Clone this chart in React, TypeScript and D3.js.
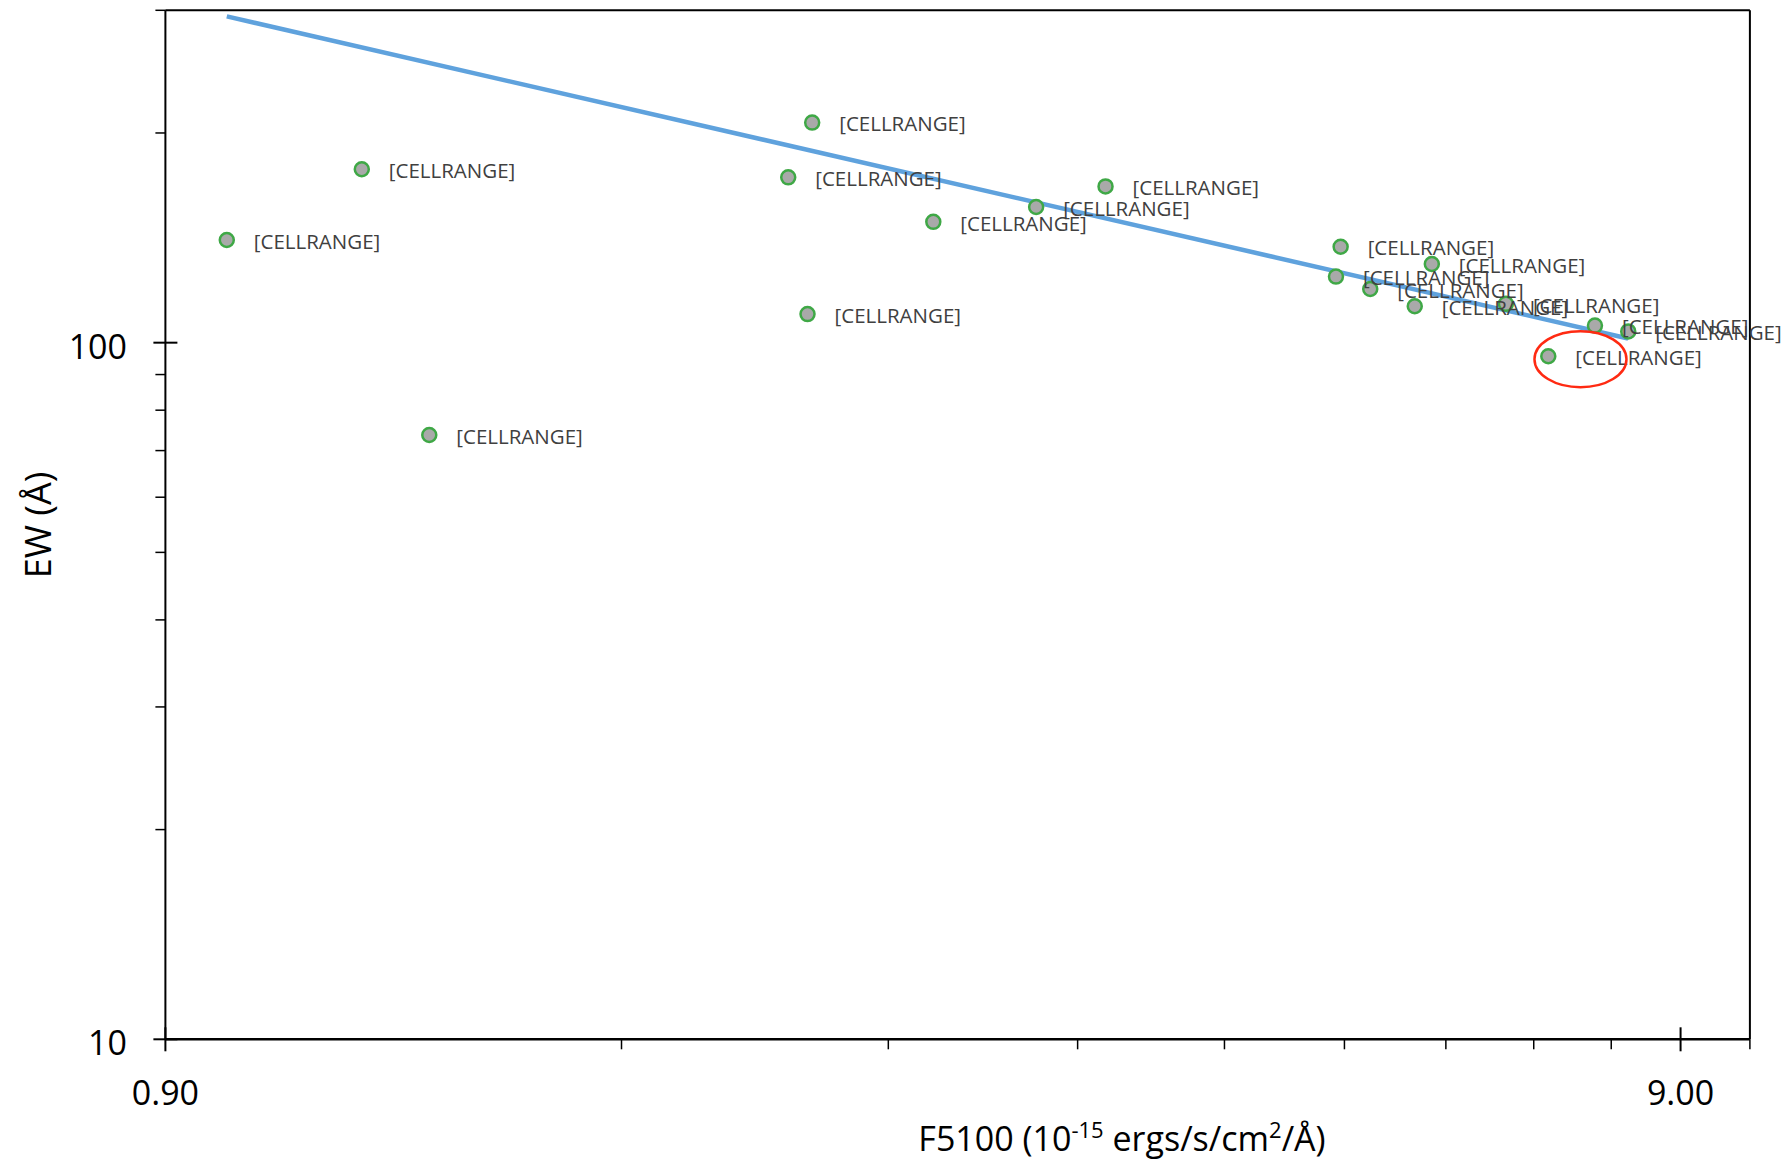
import React from "react";
import { scaleLog, line, format } from "d3";

// F5100 (1e-15 ergs/s/cm2/A) and EW (A)
const fluxValues = [0.988, 1.213, 1.344, 2.405, 2.319, 2.388, 2.891, 3.38, 3.756, 5.369, 5.331, 6.167, 5.616, 6.009, 6.902, 7.902, 8.312, 7.361];
const ewValues = [140.4, 177.4, 73.7, 207, 172.7, 109.9, 149.1, 156.6, 167.6, 137.3, 124.4, 129.7, 119.4, 112.8, 113.7, 105.8, 103.8, 95.6];
const pointLabels = fluxValues.map(() => "[CELLRANGE]");

// trend line (power law, straight in log-log)
const trendFlux = [0.988, 8.31];
const trendEw = [294, 101.4];

// circled point
const highlightFlux = [7.73];
const highlightEw = [94.7];

const xMajor = [0.9, 9];
const xMinor = [1.8, 2.7, 3.6, 4.5, 5.4, 6.3, 7.2, 8.1, 10];
const yMajor = [10, 100];
const yMinor = [20, 30, 40, 50, 60, 70, 80, 90, 200, 300];

const W = 1789;
const H = 1162;
const FONT = "'Open Sans', 'Noto Sans', sans-serif";

export default function App() {
  const left = 165.4, right = 1749.9, top = 10.3, bottom = 1039.3;

  const x = scaleLog().domain([0.9, 10]).range([left, right]);
  const y = scaleLog().domain([10, 300]).range([bottom, top]);

  const trend = line<number>()
    .x((d) => x(d))
    .y((d, i) => y(trendEw[i]));

  const fmtX = format(".2f");

  return (
    <svg
      width={W}
      height={H}
      style={{ position: "absolute", left: 0, top: 0, background: "#fff" }}
      fontFamily={FONT}
    >
      {/* frame */}
      <line x1={left} x2={right} y1={top} y2={top} stroke="#000" strokeWidth={2} />
      <line x1={right} x2={right} y1={top} y2={bottom} stroke="#000" strokeWidth={2} />
      <line x1={left} x2={left} y1={top} y2={bottom} stroke="#000" strokeWidth={2} />
      <line x1={left} x2={right} y1={bottom} y2={bottom} stroke="#000" strokeWidth={2.5} />

      {/* x ticks */}
      {xMinor.map((v) => (
        <line key={"xm" + v} x1={x(v)} x2={x(v)} y1={bottom} y2={bottom + 10} stroke="#000" strokeWidth={1.5} />
      ))}
      {xMajor.map((v) => (
        <g key={"xM" + v}>
          <line x1={x(v)} x2={x(v)} y1={bottom - 12} y2={bottom + 12} stroke="#000" strokeWidth={2} />
          <text x={x(v)} y={1105} textAnchor="middle" fontSize={34} fill="#000">
            {fmtX(v)}
          </text>
        </g>
      ))}

      {/* y ticks */}
      {yMinor.map((v) => (
        <line key={"ym" + v} x1={left - 10} x2={left} y1={y(v)} y2={y(v)} stroke="#000" strokeWidth={1.5} />
      ))}
      {yMajor.map((v) => (
        <g key={"yM" + v}>
          <line x1={left - 12} x2={left + 12} y1={y(v)} y2={y(v)} stroke="#000" strokeWidth={2} />
          <text x={127} y={y(v) + 4} dy="0.35em" textAnchor="end" fontSize={34} fill="#000">
            {v}
          </text>
        </g>
      ))}

      {/* axis titles */}
      <text x={1122} y={1151} textAnchor="middle" fontSize={34} fill="#000">
        F5100 (10
        <tspan dy={-13} fontSize={22}>-15</tspan>
        <tspan dy={13}> ergs/s/cm</tspan>
        <tspan dy={-13} fontSize={22}>2</tspan>
        <tspan dy={13}>/Å)</tspan>
      </text>
      <text
        transform={`translate(51,525) rotate(-90)`}
        textAnchor="middle"
        fontSize={36}
        fill="#000"
      >
        EW (Å)
      </text>

      {/* trend line */}
      <path d={trend(trendFlux) || ""} fill="none" stroke="#5fa2dd" strokeWidth={4.5} />

      {/* points */}
      {fluxValues.map((v, i) => (
        <circle
          key={"p" + i}
          cx={x(v)}
          cy={y(ewValues[i])}
          r={7}
          fill="#a9a9a9"
          stroke="#3fa846"
          strokeWidth={2.5}
        />
      ))}

      {/* labels */}
      {fluxValues.map((v, i) => (
        <text
          key={"l" + i}
          x={x(v) + 27}
          y={y(ewValues[i]) + 1.5}
          dy="0.35em"
          fontSize={20.5}
          fill="#404040"
        >
          {pointLabels[i]}
        </text>
      ))}

      {/* highlight */}
      {highlightFlux.map((v, i) => (
        <ellipse
          key={"h" + i}
          cx={x(v)}
          cy={y(highlightEw[i])}
          rx={46}
          ry={28}
          fill="none"
          stroke="#ff2a12"
          strokeWidth={2.5}
        />
      ))}
    </svg>
  );
}
